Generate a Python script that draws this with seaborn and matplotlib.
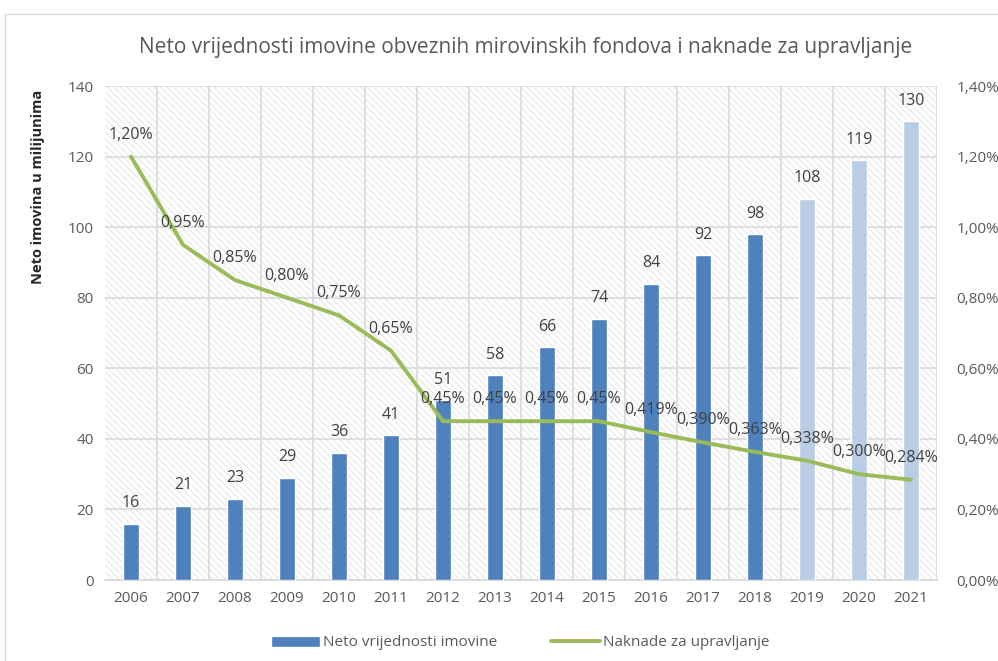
import numpy as np
import pandas as pd
import matplotlib
matplotlib.use("Agg")
import matplotlib.pyplot as plt
import seaborn as sns
from matplotlib.lines import Line2D
from matplotlib.patches import Patch, Rectangle

# data
years = ["2006", "2007", "2008", "2009", "2010", "2011", "2012", "2013",
         "2014", "2015", "2016", "2017", "2018", "2019", "2020", "2021"]
assets = [16, 21, 23, 29, 36, 41, 51, 58, 66, 74, 84, 92, 98, 108, 119, 130]
fees = [1.20, 0.95, 0.85, 0.80, 0.75, 0.65, 0.45, 0.45, 0.45, 0.45,
        0.419, 0.390, 0.363, 0.338, 0.300, 0.284]
fee_labels = ["1,20%", "0,95%", "0,85%", "0,80%", "0,75%", "0,65%", "0,45%", "0,45%",
              "0,45%", "0,45%", "0,419%", "0,390%", "0,363%", "0,338%", "0,300%", "0,284%"]
forecast = [False] * 13 + [True] * 3

df = pd.DataFrame({"year": years, "assets": assets, "fee": fees,
                   "kind": ["plan" if f else "actual" for f in forecast]})

sns.set_theme(style="white")
plt.rcParams["font.family"] = ["Open Sans", "DejaVu Sans"]
plt.rcParams["hatch.linewidth"] = 0.6

text_col = "#595959"
bar_col = "#4f81bd"
bar_light = "#b9cde5"
line_col = "#9bbb59"
grid_col = "#d9d9d9"

fig = plt.figure(figsize=(9.98, 6.61), dpi=100)
fig.patches.append(Rectangle((5 / 998, -0.01), 1.0, 1 - 14 / 661 + 0.01, transform=fig.transFigure,
                             fill=False, edgecolor="#d9d9d9", linewidth=1))
ax = fig.add_axes([105 / 998, 1 - 580 / 661, 832 / 998, 494 / 661])

# hatched plot-area background
ax.add_patch(Rectangle((0, 0), 1, 1, transform=ax.transAxes, facecolor="white",
                       edgecolor="#e0e0e0", hatch="\\\\\\\\\\", linewidth=0, zorder=0))

sns.barplot(data=df, x="year", y="assets", hue="kind", palette={"actual": bar_col, "plan": bar_light},
            width=0.31, dodge=False, legend=False, saturation=1, ax=ax, zorder=3)

ax.set_ylim(0, 140)
ax.set_yticks(range(0, 141, 20))
ax.set_xlim(-0.5, len(years) - 0.5)
ax.set_xticks(np.arange(len(years)) + 0.5, minor=True)
ax.grid(axis="y", which="major", color=grid_col, linewidth=1.2, zorder=1)
ax.grid(axis="x", which="minor", color=grid_col, linewidth=1.2, zorder=1)
ax.grid(axis="x", which="major", visible=False)
ax.tick_params(axis="both", which="both", length=0, labelsize=11, colors=text_col, pad=8)
ax.set_xlabel("")
ax.set_ylabel("Neto imovina u milijunima", fontsize=10.5, fontweight="bold", color="#262626")
ax.yaxis.set_label_coords(-0.072, 0.796)
ax.set_axisbelow(True)
for s in ax.spines.values():
    s.set_visible(False)
ax.spines["bottom"].set_visible(True)
ax.spines["bottom"].set_color(grid_col)

for i, v in enumerate(assets):
    ax.annotate(str(v), (i, v), xytext=(0, 9), textcoords="offset points",
                ha="center", va="bottom", fontsize=11.5, color="#404040")

ax2 = ax.twinx()
ax2.plot(range(len(years)), fees, color=line_col, linewidth=2.8, zorder=4)
ax2.set_ylim(0, 1.4)
ax2.set_yticks(np.arange(0, 1.41, 0.2))
ax2.set_yticklabels([f"{t:.2f}%".replace(".", ",") for t in np.arange(0, 1.41, 0.2)])
ax2.tick_params(axis="y", length=0, labelsize=11, colors=text_col, pad=14)
ax2.grid(False)
for s in ax2.spines.values():
    s.set_visible(False)

for i, (v, lab) in enumerate(zip(fees, fee_labels)):
    ax2.annotate(lab, (i, v), xytext=(0, 10), textcoords="offset points",
                 ha="center", va="bottom", fontsize=11.5, color="#404040", zorder=5)

fig.suptitle("Neto vrijednosti imovine obveznih mirovinskih fondova i naknade za upravljanje",
             x=526 / 998, y=1 - 47 / 661, va="center", fontsize=15, color=text_col)

handles = [Patch(facecolor=bar_col, label="Neto vrijednosti imovine"),
           Line2D([0], [0], color=line_col, linewidth=2.8, label="Naknade za upravljanje")]
fig.legend(handles=handles, loc="center", bbox_to_anchor=(520 / 998, 1 - 643 / 661), ncol=2,
           frameon=False, fontsize=11, labelcolor=text_col, handlelength=3.2, handletextpad=0.2,
           columnspacing=3.5)

fig.savefig("out.png", dpi=100)
